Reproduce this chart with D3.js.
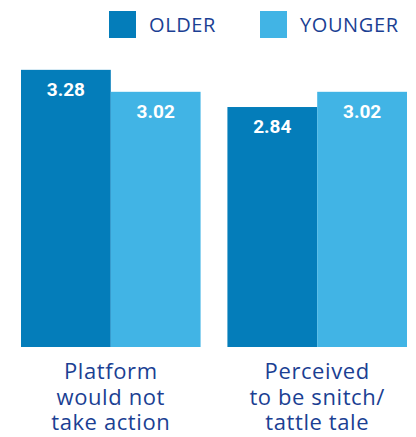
<!DOCTYPE html>
<html><head><meta charset="utf-8">
<script src="https://cdn.jsdelivr.net/npm/d3@7"></script>
<style>body{margin:0;background:#fff}svg{display:block}</style>
</head><body>
<script>
const categories = [["Platform","would not","take action"],["Perceived","to be snitch/","tattle tale"]];
const series = ["OLDER","YOUNGER"];
const older = [3.28, 2.84];
const younger = [3.02, 3.02];
const colors = ["#047dba", "#41b4e5"];

const W = 416, H = 437;
const svg = d3.select("body").append("svg").attr("width", W).attr("height", H);
const x0 = d3.scaleBand().domain(d3.range(categories.length)).range([21, 407]).paddingInner(0.13).paddingOuter(0);
const x1 = d3.scaleBand().domain(series).range([0, x0.bandwidth()]);
const y = d3.scaleLinear().domain([0, 4]).range([347, 9]);
const color = d3.scaleOrdinal().domain(series).range(colors);
const font = "'Open Sans', sans-serif";

const data = categories.map((c, i) => ({i, vals: [{s: "OLDER", v: older[i]}, {s: "YOUNGER", v: younger[i]}]}));
const g = svg.selectAll("g.grp").data(data).join("g").attr("class","grp")
  .attr("transform", d => `translate(${x0(d.i)},0)`);
g.selectAll("rect").data(d => d.vals).join("rect")
  .attr("x", d => x1(d.s)).attr("width", x1.bandwidth())
  .attr("y", d => y(d.v)).attr("height", d => y(0) - y(d.v))
  .attr("fill", d => color(d.s));
g.selectAll("text.val").data(d => d.vals).join("text").attr("class","val")
  .attr("x", d => x1(d.s) + x1.bandwidth()/2).attr("y", d => y(d.v) + 26)
  .attr("text-anchor","middle").attr("fill","#fff")
  .style("font-family", "Roboto, sans-serif").style("font-weight","bold").style("font-size","19px")
  .text(d => d.v.toFixed(2));
g.each(function(d){
  const t = d3.select(this).append("text").attr("text-anchor","middle")
    .attr("fill","#1b3f93").style("font-family", font).style("font-size","22px").style("letter-spacing","0.6px");
  categories[d.i].forEach((line, k) => {
    t.append("tspan").attr("x", x0.bandwidth()/2).attr("y", 379 + k*25.5).text(line);
  });
});

const legX = [109, 260];
const leg = svg.selectAll("g.leg").data(series).join("g").attr("class","leg")
  .attr("transform", (d,i) => `translate(${legX[i]},11)`);
leg.append("rect").attr("width", 27).attr("height", 27).attr("fill", d => color(d));
leg.append("text").attr("x", 40).attr("y", 21).attr("fill","#1b3f93")
  .style("font-family", font).style("font-size","20px").style("letter-spacing","0.6px").text(d => d);
</script>
</body></html>
